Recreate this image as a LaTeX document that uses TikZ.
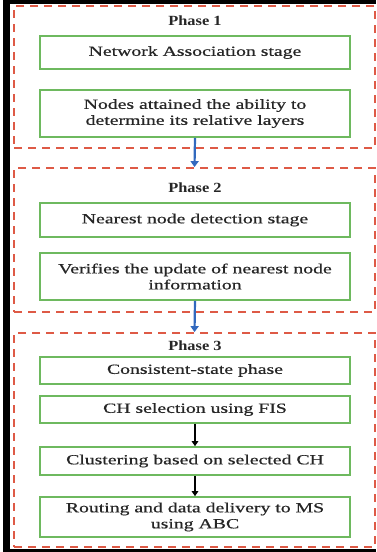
\documentclass[tikz,border=0pt]{standalone}
\usepackage{fontspec}
\setmainfont{Liberation Serif}
\newfontfamily\bodyfont[FakeStretch=1.41,FakeBold=0.6]{Liberation Serif}
\newfontfamily\titlefont[FakeStretch=1.17]{Liberation Serif}
\usetikzlibrary{arrows.meta}
\definecolor{dred}{RGB}{222,90,70}
\definecolor{bgreen}{RGB}{110,185,95}
\definecolor{ablue}{RGB}{50,105,190}
\tikzset{
  stagebox/.style={draw=bgreen, line width=1.6pt, minimum width=310pt, inner sep=0pt, align=center, font=\bodyfont\fontsize{14}{16}\selectfont, text=black!85},
  phasebox/.style={draw=dred, line width=1.8pt, dash pattern=on 8pt off 6pt, inner sep=0pt},
  phasetitle/.style={font=\titlefont\fontsize{14}{16}\selectfont\bfseries, text=black!85},
  bluearrow/.style={draw=ablue, line width=2.2pt, -{Triangle[width=8pt,length=6pt]}},
  blackarrow/.style={draw=black, line width=1.5pt, -{Triangle[width=6.5pt,length=5pt]}}
}
\begin{document}
\begin{tikzpicture}[x=1pt,y=-1pt]
\useasboundingbox (0,0) rectangle (376,552);
\fill[black] (3,0) rectangle (376,552);
\fill[white] (10,4) rectangle (376,549);
% phase frames
\node[phasebox, minimum width=361pt, minimum height=142pt] (p1) at (194.5,77) {};
\node[phasebox, minimum width=361pt, minimum height=144pt] (p2) at (194.5,240) {};
\node[phasebox, minimum width=361pt, minimum height=214pt] (p3) at (194.5,440) {};
% titles
\node[phasetitle] (t1) at (195,21) {Phase 1};
\node[phasetitle] (t2) at (195,188) {Phase 2};
\node[phasetitle] (t3) at (195,346) {Phase 3};
% stages
\node[stagebox, minimum height=33pt] (b1) at (195,52.5) {Network Association stage};
\node[stagebox, minimum height=47pt] (b2) at (195,113.5) {Nodes attained the ability to\\determine its relative layers};
\node[stagebox, minimum height=34pt] (b3) at (195,220) {Nearest node detection stage};
\node[stagebox, minimum height=47pt] (b4) at (195,276.5) {Verifies the update of nearest node\\information};
\node[stagebox, minimum height=27pt] (b5) at (195,370.5) {Consistent-state phase};
\node[stagebox, minimum height=27pt] (b6) at (195,409.5) {CH selection using FIS};
\node[stagebox, minimum height=28pt] (b7) at (195,461) {Clustering based on selected CH};
\node[stagebox, minimum height=40pt] (b8) at (195,517) {Routing and data delivery to MS\\using ABC};
% arrows
\draw[bluearrow] (b2.south) -- (p2.north);
\draw[bluearrow] (b4.south) -- (p3.north);
\draw[blackarrow] (b6.south) -- (b7.north);
\draw[blackarrow] (b7.south) -- (b8.north);
\end{tikzpicture}
\end{document}
